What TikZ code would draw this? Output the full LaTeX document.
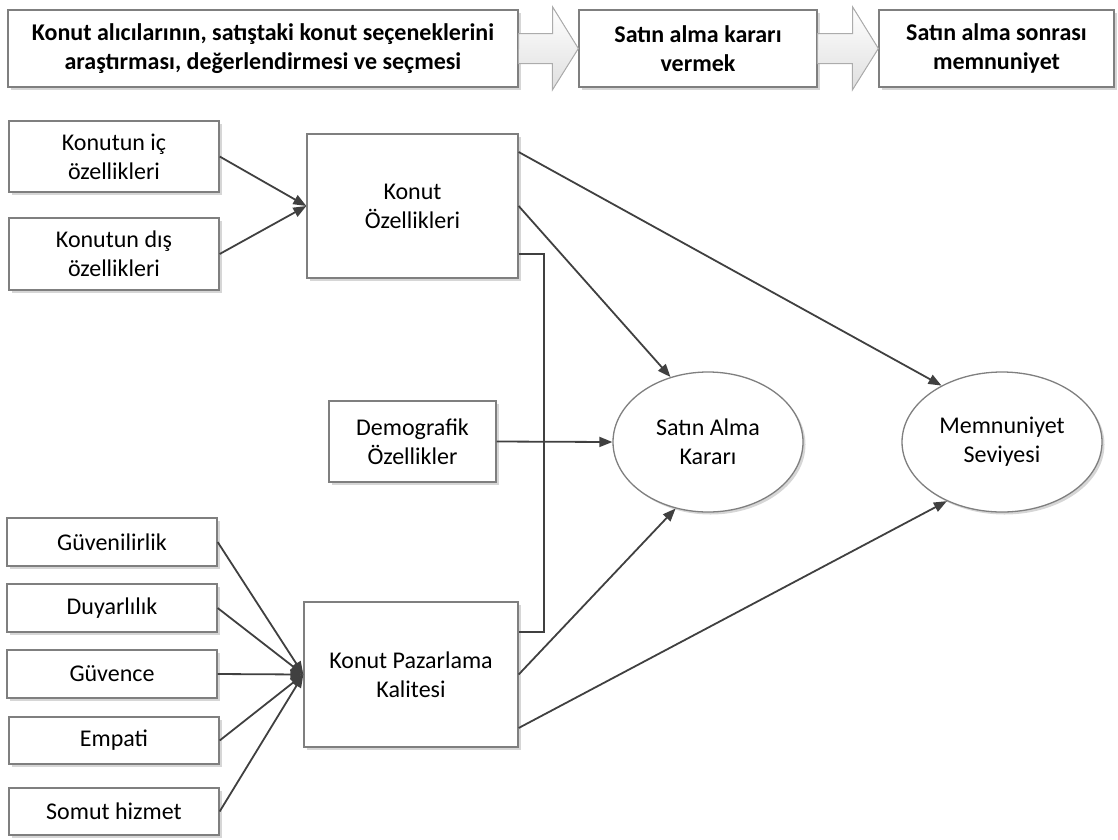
\documentclass[tikz,border=0pt]{standalone}
\usepackage{fontspec}
\setmainfont{Carlito}
\usetikzlibrary{arrows.meta,shapes.geometric,shadows,calc}
\definecolor{boxgray}{HTML}{7F7F7F}
\definecolor{linkgray}{HTML}{404040}
\begin{document}
\begin{tikzpicture}[x=1pt,y=-1pt,
  every node/.style={font=\fontsize{24}{29}\selectfont, align=center, inner sep=0pt},
  softshadow/.style={drop shadow={shadow xshift=2.5pt,shadow yshift=-2.5pt,fill=black,opacity=0.16}},
  box/.style={rectangle, draw=boxgray, line width=1.3pt, fill=white, softshadow},
  stage/.style={box, font=\bfseries\fontsize{24}{29}\selectfont, minimum height=77pt},
  oval/.style={ellipse, draw=boxgray, line width=1.3pt, fill=white, softshadow},
  link/.style={draw=linkgray, line width=1.8pt},
  arr/.style={link, -{Triangle[length=13pt,width=10pt]}},
  flow/.style={draw=gray!65, top color=white, bottom color=gray!25, line width=1pt, line join=miter}
]
\useasboundingbox (0,0) rectangle (1118,839);

% process stages along the top
\node[stage, minimum width=510pt] (s1) at (263,48.5)
  {Konut alıcılarının, satıştaki konut seçeneklerini\\araştırması, değerlendirmesi ve seçmesi};
\node[stage, minimum width=238pt] (s2) at (698,48.5) {Satın alma kararı\\vermek};
\node[stage, minimum width=235pt] (s3) at (996.5,48.5) {Satın alma sonrası\\memnuniyet};

% block arrows between the stages
\filldraw[flow] ($(s1.east)+(0,-15)$) -- ++(34,0) -- ++(0,-26.5) -- (s2.west)
  -- ++(-26,41.5) -- ++(0,-26.5) -- ++(-34,0) -- cycle;
\filldraw[flow] ($(s2.east)+(0,-15)$) -- ++(35,0) -- ++(0,-26.5) -- (s3.west)
  -- ++(-26,41.5) -- ++(0,-26.5) -- ++(-35,0) -- cycle;

% housing features
\node[box, minimum width=210pt, minimum height=71pt] (ic) at (114,156.5) {Konutun iç\\özellikleri};
\node[box, minimum width=210pt, minimum height=72pt] (dis) at (114,254) {Konutun dış\\özellikleri};
\node[box, minimum width=211pt, minimum height=144pt] (ko) at (412.5,206) {Konut\\Özellikleri};

% demographics
\node[box, minimum width=167pt, minimum height=81pt] (demo) at (412.5,441.5) {Demografik\\Özellikler};

% marketing quality dimensions
\node[box, minimum width=210pt, minimum height=48pt] (guv) at (112,542) {Güvenilirlik};
\node[box, minimum width=210pt, minimum height=48pt] (duy) at (112,608) {Duyarlılık};
\node[box, minimum width=210pt, minimum height=48pt] (gvc) at (112,674) {Güvence};
\node[box, minimum width=210pt, minimum height=47pt] (emp) at (114,740.5) {Empati};
\node[box, minimum width=210pt, minimum height=47pt] (som) at (114,811.5) {Somut hizmet};
\node[box, minimum width=214pt, minimum height=145pt] (kpk) at (411,674.5) {Konut Pazarlama\\Kalitesi};

% outcomes
\node[oval, minimum width=190pt, minimum height=140pt] (sak) at (708,442) {Satın Alma\\Kararı};
\node[oval, minimum width=200pt, minimum height=140pt] (mem) at (1002,442) {Memnuniyet\\Seviyesi};

% connectors
\draw[arr] (ic.east) -- (ko.west);
\draw[arr] (dis.east) -- (ko.west);
\draw[arr] ([yshift=54pt]ko.east) -- (mem.137);
\draw[arr] (ko.east) -- (sak.120);
\draw[link] ([yshift=-48pt]ko.east) -- ++(25,0) |- ([yshift=42.5pt]kpk.east);
\draw[arr] (demo.east) -- (sak.west);
\foreach \n in {guv,duy,gvc,emp,som}
  \draw[arr] (\n.east) -- (kpk.west);
\draw[arr] (kpk.east) -- (sak.244);
\draw[arr] ([yshift=-53.5pt]kpk.east) -- (mem.227.5);
\end{tikzpicture}
\end{document}
